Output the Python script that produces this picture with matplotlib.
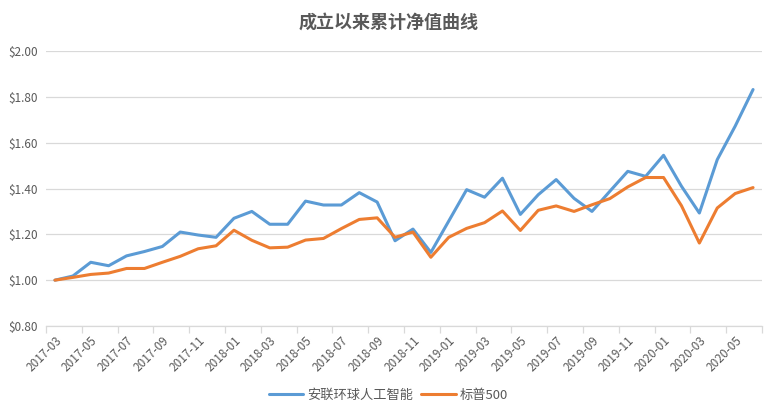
import matplotlib
matplotlib.use('Agg')
import matplotlib.pyplot as plt
import numpy as np

plt.rcParams['font.family'] = ['Noto Sans CJK SC', 'DejaVu Sans']

# monthly net value since inception
months = ['2017-03', '2017-04', '2017-05', '2017-06', '2017-07', '2017-08', '2017-09', '2017-10',
          '2017-11', '2017-12', '2018-01', '2018-02', '2018-03', '2018-04', '2018-05', '2018-06',
          '2018-07', '2018-08', '2018-09', '2018-10', '2018-11', '2018-12', '2019-01', '2019-02',
          '2019-03', '2019-04', '2019-05', '2019-06', '2019-07', '2019-08', '2019-09', '2019-10',
          '2019-11', '2019-12', '2020-01', '2020-02', '2020-03', '2020-04', '2020-05', '2020-06']
fund = [1.000, 1.018, 1.078, 1.063, 1.106, 1.125, 1.147, 1.210, 1.197, 1.187,
        1.270, 1.300, 1.244, 1.244, 1.345, 1.328, 1.328, 1.382, 1.341, 1.172,
        1.223, 1.121, 1.258, 1.395, 1.362, 1.445, 1.287, 1.373, 1.439, 1.357,
        1.300, 1.388, 1.475, 1.453, 1.545, 1.410, 1.293, 1.526, 1.672, 1.832]
sp500 = [1.000, 1.012, 1.025, 1.031, 1.051, 1.051, 1.078, 1.104, 1.137, 1.150,
         1.218, 1.174, 1.141, 1.144, 1.175, 1.182, 1.225, 1.265, 1.272, 1.187,
         1.210, 1.100, 1.187, 1.226, 1.251, 1.302, 1.217, 1.305, 1.324, 1.300,
         1.329, 1.356, 1.407, 1.448, 1.448, 1.325, 1.162, 1.315, 1.378, 1.404]
names = ['安联环球人工智能', '标普500']
yticks = [0.8, 1.0, 1.2, 1.4, 1.6, 1.8, 2.0]

grey = '#595959'
fig = plt.figure(figsize=(7.77, 4.15), dpi=100)
ax = fig.add_axes([0.0592, 0.2145, 0.9215, 0.6625])

x = np.arange(len(months))
ax.plot(x, fund, color='#5b9bd5', lw=2.2, label=names[0], solid_capstyle='round')
ax.plot(x, sp500, color='#ed7d31', lw=2.2, label=names[1], solid_capstyle='round')

ax.set_xlim(-0.5, len(months) - 0.5)
ax.set_ylim(0.8, 2.0)
ax.set_yticks(yticks)
ax.set_yticklabels(['$%.2f' % v for v in yticks], fontsize=8.5, color=grey)
ax.yaxis.grid(True, color='#d9d9d9', lw=0.9)
ax.tick_params(axis='y', length=0, pad=6)

ax.set_xticks(x[::2])
ax.set_xticklabels(months[::2], rotation=45, ha='right', rotation_mode='anchor',
                   fontsize=8.5, color=grey)
ax.set_xticks(np.arange(-0.5, len(months), 2), minor=True)
ax.tick_params(axis='x', which='major', length=0, pad=6)
ax.tick_params(axis='x', which='minor', length=5, color='#d9d9d9', width=0.9)

for s in ['top', 'right', 'left']:
    ax.spines[s].set_visible(False)
ax.spines['bottom'].set_color('#d9d9d9')
ax.spines['bottom'].set_linewidth(0.9)
ax.set_axisbelow(True)

fig.text(0.5, 0.947, '成立以来累计净值曲线', ha='center', va='center',
         fontsize=13, fontweight='bold', color=grey)

fig.legend(loc='center', bbox_to_anchor=(0.5, 0.047), ncol=2, frameon=False,
           fontsize=9.5, labelcolor=grey, handlelength=2.6, handletextpad=0.3,
           columnspacing=0.6)

fig.savefig('out.png', dpi=100)
